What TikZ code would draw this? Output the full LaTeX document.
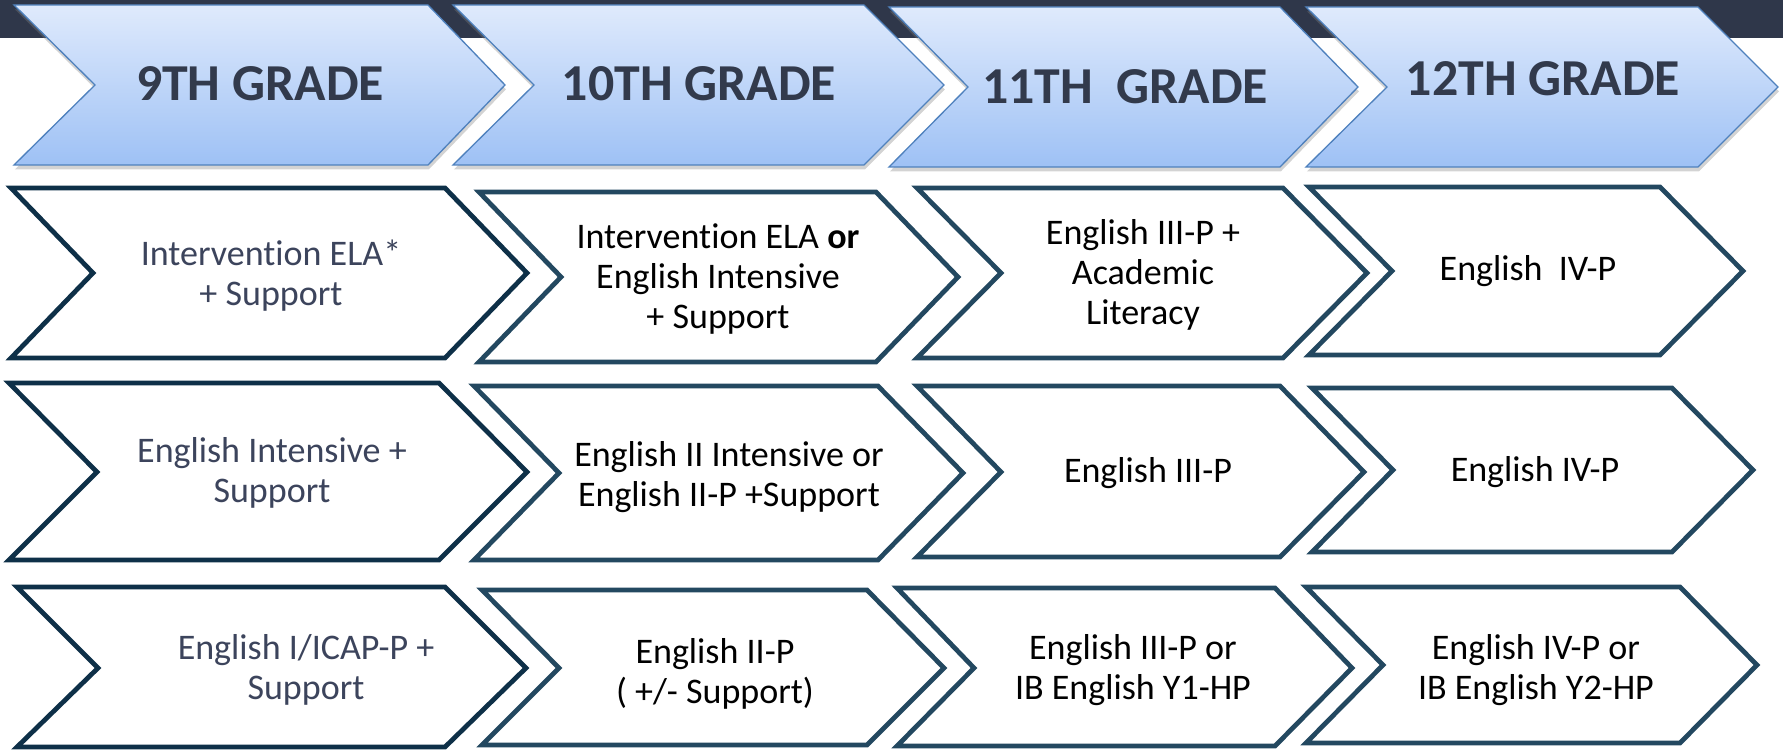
\documentclass[tikz,border=0pt]{standalone}
\usepackage{fontspec}
\setmainfont{Carlito}[Ligatures=CommonOff]
\usetikzlibrary{shadows}

\definecolor{bandgray}{RGB}{47,55,74}
\definecolor{hdrline}{RGB}{79,129,189}
\definecolor{hdrtop}{RGB}{223,234,252}
\definecolor{hdrbot}{RGB}{158,193,245}
\definecolor{hdrtext}{RGB}{50,58,76}
\definecolor{firstline}{RGB}{14,48,72}
\definecolor{restline}{RGB}{35,72,96}
\definecolor{firsttext}{RGB}{60,68,92}

\begin{document}
\begin{tikzpicture}[x=0.02cm,y=-0.02cm,
    header/.style={draw=hdrline,line width=0.75pt,top color=hdrtop,bottom color=hdrbot,
        drop shadow={shadow xshift=0.5pt,shadow yshift=-2.5pt,opacity=0.35}},
    firstbox/.style={draw=firstline,line width=2.7pt,fill=white},
    restbox/.style={draw=restline,line width=2.7pt,fill=white},
    hdrtxt/.style={font=\fontsize{29.5pt}{32pt}\selectfont\bfseries,text=hdrtext},
    celltxt/.style={align=center,font=\fontsize{20.5pt}{22.8pt}\selectfont},
    firsttxt/.style={celltxt,text=firsttext}]
    \useasboundingbox (0,0) rectangle (1783,750);
    \fill[bandgray] (0,0) rectangle (1783,38);

    % grade headers
    \path[header] (14,5) -- (428,5) -- (505,85) -- (428,165) -- (14,165) -- (95,85) -- cycle;
    \path[header] (453,5) -- (864,5) -- (944,85) -- (864,165) -- (453,165) -- (534,85) -- cycle;
    \path[header] (889,7) -- (1280,7) -- (1358,87) -- (1280,167) -- (889,167) -- (968,87) -- cycle;
    \path[header] (1306,7) -- (1698,7) -- (1778,87) -- (1698,167) -- (1306,167) -- (1387,87) -- cycle;

    \node[hdrtxt] (g9) at (260,84) {9TH GRADE};
    \node[hdrtxt] (g10) at (699,84) {10TH GRADE};
    \node[hdrtxt] (g11) at (1125,87) {11TH\ \ GRADE};
    \node[hdrtxt] (g12) at (1543,79) {12TH GRADE};

    % first row
    \draw[firstbox] (11,188) -- (445,188) -- (527,273) -- (445,358) -- (11,358) -- (93,273) -- cycle;
    \draw[restbox] (479,192) -- (876,192) -- (958,277) -- (876,362) -- (479,362) -- (561,277) -- cycle;
    \draw[restbox] (917,188) -- (1283,188) -- (1367,273) -- (1283,358) -- (917,358) -- (1001,273) -- cycle;
    \draw[restbox] (1309,187) -- (1660,187) -- (1743,271) -- (1660,355) -- (1309,355) -- (1392,271) -- cycle;

    \node[firsttxt] (a9) at (271,276) {Intervention ELA*\\+ Support};
    \node[celltxt] (a10) at (718,279) {Intervention ELA \textbf{or}\\English Intensive\\+ Support};
    \node[celltxt] (a11) at (1143,275) {English III-P +\\Academic\\Literacy};
    \node[celltxt] (a12) at (1528,271) {English\ \ IV-P};

    % second row
    \draw[firstbox] (9,383) -- (439,383) -- (527,472) -- (439,560) -- (9,560) -- (97,472) -- cycle;
    \draw[restbox] (474,386) -- (878,386) -- (963,473) -- (878,560) -- (474,560) -- (559,473) -- cycle;
    \draw[restbox] (917,386) -- (1280,386) -- (1364,472) -- (1280,557) -- (917,557) -- (1001,472) -- cycle;
    \draw[restbox] (1312,388) -- (1672,388) -- (1753,470) -- (1672,552) -- (1312,552) -- (1393,470) -- cycle;

    \node[firsttxt] (b9) at (272,473) {English Intensive +\\Support};
    \node[celltxt] (b10) at (729,477) {English II Intensive or\\English II-P +Support};
    \node[celltxt] (b11) at (1148,473) {English III-P};
    \node[celltxt] (b12) at (1535,472) {English IV-P};

    % third row
    \draw[firstbox] (17,587) -- (445,587) -- (526,668) -- (445,747) -- (17,747) -- (98,668) -- cycle;
    \draw[restbox] (482,590) -- (867,590) -- (944,668) -- (867,745) -- (482,745) -- (559,668) -- cycle;
    \draw[restbox] (897,588) -- (1275,588) -- (1352,668) -- (1275,746) -- (897,746) -- (974,668) -- cycle;
    \draw[restbox] (1306,587) -- (1680,587) -- (1757,665) -- (1680,743) -- (1306,743) -- (1383,665) -- cycle;

    \node[firsttxt] (c9) at (306,670) {English I/ICAP-P +\\Support};
    \node[celltxt] (c10) at (715,674) {English II-P\\( +/- Support)};
    \node[celltxt] (c11) at (1133,670) {English III-P or\\IB English Y1-HP};
    \node[celltxt] (c12) at (1536,670) {English IV-P or\\IB English Y2-HP};
\end{tikzpicture}
\end{document}
